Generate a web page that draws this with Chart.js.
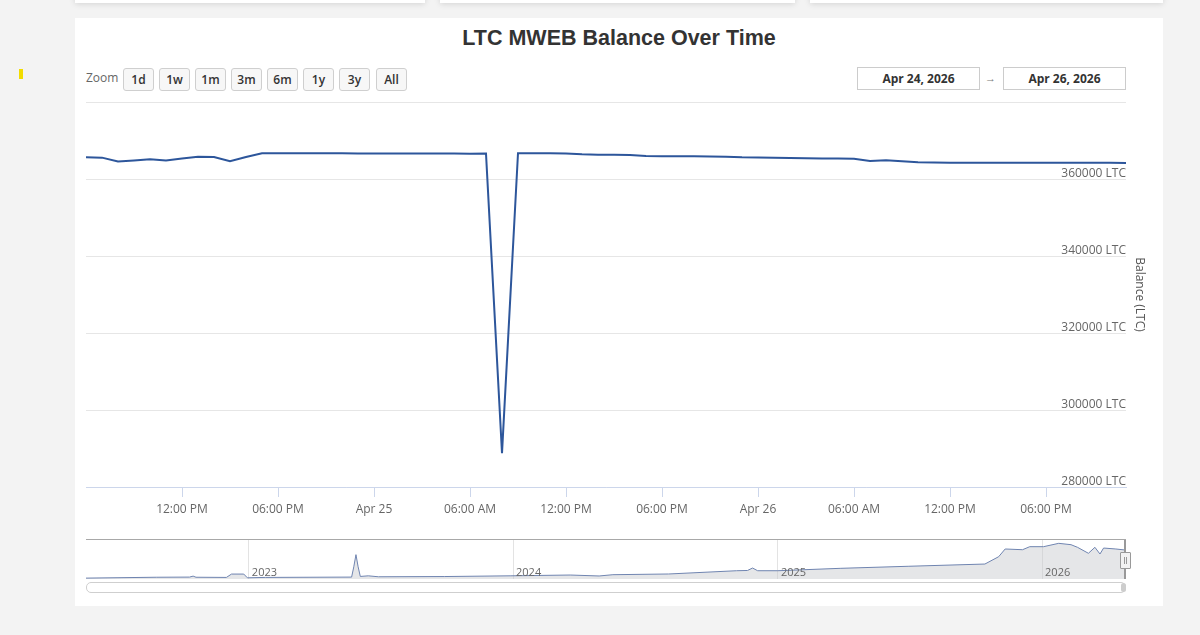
<!DOCTYPE html>
<html>
<head>
<meta charset="utf-8">
<script src="https://cdn.jsdelivr.net/npm/chart.js@4.4.1/dist/chart.umd.min.js"></script>
<style>
  html, body { margin: 0; padding: 0; background: #f3f3f3; }
  #page { position: relative; width: 1200px; height: 635px; overflow: hidden; background: #f3f3f3; font-family: "Open Sans", "Noto Sans", sans-serif; }
  .topcard { position: absolute; top: -30px; height: 33px; background: #fff; box-shadow: 0 1px 6px rgba(0,0,0,0.13); }
  #mark { position: absolute; left: 19px; top: 69px; width: 4px; height: 10px; background: #f2dc00; }
  #card { position: absolute; left: 75px; top: 18px; width: 1088px; height: 588px; background: #fff; }
  #title { position: absolute; left: 75px; width: 1088px; top: 25px; line-height: 26px; text-align: center; font-family: "Liberation Sans", Arial, sans-serif; font-weight: bold; font-size: 21.5px; color: #333; }
  #zoomlbl { position: absolute; left: 86px; top: 70px; font-size: 12px; line-height: 16px; color: #666; }
  .btn { position: absolute; top: 68px; height: 21px; width: 29px; border: 1px solid #cfcfcf; border-radius: 3px; background: #f7f7f7; box-sizing: content-box; font-weight: 600; font-size: 12px; line-height: 21px; text-align: center; color: #333; }
  .date { position: absolute; top: 67px; height: 21px; width: 121px; border: 1px solid #cccccc; background: #fff; font-weight: bold; font-size: 12px; line-height: 21px; text-align: center; color: #333; }
  #arrow { position: absolute; left: 985px; top: 70px; font-size: 11px; line-height: 16px; color: #777; }
  #main { position: absolute; left: 0; top: 0; }
  #nav { position: absolute; left: 0; top: 530px; }
  #handle { position: absolute; left: 1120px; top: 552px; width: 9px; height: 15px; border: 1px solid #999; background: #f2f2f2; border-radius: 1px; }
  #handle:before, #handle:after { content: ""; position: absolute; top: 4px; width: 1px; height: 7px; background: #999; }
  #handle:before { left: 3px; } #handle:after { left: 5px; }
  #scroll { position: absolute; left: 86px; top: 582px; width: 1038px; height: 9px; border: 1px solid #cfcfcf; border-radius: 5px; background: #fff; }
  #thumb { position: absolute; left: 1121px; top: 583px; width: 5px; height: 9px; background: #cdcdcd; border-radius: 3px; }
</style>
</head>
<body>
<div id="page">
  <div class="topcard" style="left:75px;width:350px"></div>
  <div class="topcard" style="left:440px;width:355px"></div>
  <div class="topcard" style="left:810px;width:353px"></div>
  <div id="mark"></div>
  <div id="card"></div>
  <div id="title">LTC MWEB Balance Over Time</div>
  <div id="zoomlbl">Zoom</div>
  <div id="buttons"></div>
  <div class="date" style="left:857px">Apr 24, 2026</div>
  <div id="arrow">→</div>
  <div class="date" style="left:1003px">Apr 26, 2026</div>
  <canvas id="main" width="1200" height="530"></canvas>
  <canvas id="nav" width="1200" height="70"></canvas>
  <div id="handle"></div>
  <div id="scroll"></div>
  <div id="thumb"></div>
</div>
<script>
// ---------- DATA ----------
const zoomButtons = ['1d', '1w', '1m', '3m', '6m', '1y', '3y', 'All'];

// Main chart: hourly balance, Apr 24 06:00 -> Apr 26 23:00 (UTC)
const times = [
  '2026-04-24T06:00Z','2026-04-24T07:00Z','2026-04-24T08:00Z','2026-04-24T09:00Z','2026-04-24T10:00Z','2026-04-24T11:00Z',
  '2026-04-24T12:00Z','2026-04-24T13:00Z','2026-04-24T14:00Z','2026-04-24T15:00Z','2026-04-24T16:00Z','2026-04-24T17:00Z',
  '2026-04-24T18:00Z','2026-04-24T19:00Z','2026-04-24T20:00Z','2026-04-24T21:00Z','2026-04-24T22:00Z','2026-04-24T23:00Z',
  '2026-04-25T00:00Z','2026-04-25T01:00Z','2026-04-25T02:00Z','2026-04-25T03:00Z','2026-04-25T04:00Z','2026-04-25T05:00Z',
  '2026-04-25T06:00Z','2026-04-25T07:00Z','2026-04-25T08:00Z','2026-04-25T09:00Z','2026-04-25T10:00Z','2026-04-25T11:00Z',
  '2026-04-25T12:00Z','2026-04-25T13:00Z','2026-04-25T14:00Z','2026-04-25T15:00Z','2026-04-25T16:00Z','2026-04-25T17:00Z',
  '2026-04-25T18:00Z','2026-04-25T19:00Z','2026-04-25T20:00Z','2026-04-25T21:00Z','2026-04-25T22:00Z','2026-04-25T23:00Z',
  '2026-04-26T00:00Z','2026-04-26T01:00Z','2026-04-26T02:00Z','2026-04-26T03:00Z','2026-04-26T04:00Z','2026-04-26T05:00Z',
  '2026-04-26T06:00Z','2026-04-26T07:00Z','2026-04-26T08:00Z','2026-04-26T09:00Z','2026-04-26T10:00Z','2026-04-26T11:00Z',
  '2026-04-26T12:00Z','2026-04-26T13:00Z','2026-04-26T14:00Z','2026-04-26T15:00Z','2026-04-26T16:00Z','2026-04-26T17:00Z',
  '2026-04-26T18:00Z','2026-04-26T19:00Z','2026-04-26T20:00Z','2026-04-26T21:00Z','2026-04-26T22:00Z','2026-04-26T23:00Z'
];
const balance = [
  365650, 365550, 364550, 364800, 365100, 364800,
  365300, 365800, 365700, 364600, 365700, 366700,
  366700, 366700, 366700, 366700, 366700, 366650,
  366650, 366650, 366600, 366600, 366600, 366600,
  366550, 366600, 288800, 366700, 366700, 366700,
  366650, 366400, 366300, 366300, 366250, 365950,
  365900, 365900, 365900, 365850, 365800, 365650,
  365600, 365500, 365450, 365400, 365350, 365300,
  365250, 364700, 364900, 364600, 364350, 364300,
  364250, 364250, 364250, 364200, 364200, 364200,
  364200, 364200, 364200, 364200, 364200, 364150
];
const xRange = ['2026-04-24T06:00Z', '2026-04-26T23:00Z'];
const xTickTimes = ['2026-04-24T12:00Z','2026-04-24T18:00Z','2026-04-25T00:00Z','2026-04-25T06:00Z','2026-04-25T12:00Z',
                    '2026-04-25T18:00Z','2026-04-26T00:00Z','2026-04-26T06:00Z','2026-04-26T12:00Z','2026-04-26T18:00Z'];
const xTickLabels = ['12:00 PM','06:00 PM','Apr 25','06:00 AM','12:00 PM','06:00 PM','Apr 26','06:00 AM','12:00 PM','06:00 PM'];
const yTickValues = [280000, 300000, 320000, 340000, 360000, 380000];
const yTickLabels = ['280000 LTC', '300000 LTC', '320000 LTC', '340000 LTC', '360000 LTC', ''];
const yTitle = 'Balance (LTC)';

// Navigator: full history
const navDates = [
  '2022-05-21','2022-08-26','2022-10-11','2022-10-16','2022-10-20','2022-12-01','2022-12-08','2022-12-25','2022-12-30',
  '2023-01-24','2023-05-23','2023-05-26','2023-05-29','2023-06-01','2023-06-04','2023-06-15','2023-06-29','2023-09-28','2023-12-28',
  '2024-03-20','2024-04-29','2024-05-18','2024-08-03','2024-11-05','2024-11-20','2024-11-27','2024-12-04',
  '2025-01-01','2025-03-28','2025-07-01','2025-10-14','2025-11-02','2025-11-11','2025-12-05','2025-12-15',
  '2026-01-03','2026-01-24','2026-02-10','2026-02-19','2026-03-06','2026-03-15','2026-03-22','2026-03-27','2026-04-13','2026-04-26'
];
const navValues = [
  11000, 22000, 24000, 36000, 22000, 20000, 62000, 62000, 15000,
  20000, 24000, 153000, 306000, 153000, 32000, 40000, 28000, 31000, 40000,
  50000, 38000, 54000, 63000, 104000, 107000, 138000, 104000,
  104000, 134000, 160000, 188000, 280000, 377000, 368000, 406000,
  406000, 448000, 431000, 398000, 323000, 398000, 314000, 389000, 377000, 364000
];
const navRange = ['2022-05-21T00:00Z', '2026-04-26T23:00Z'];
const navYearTicks = ['2023-01-01T00:00Z', '2024-01-01T00:00Z', '2025-01-01T00:00Z', '2026-01-01T00:00Z'];
const navYearLabels = ['2023', '2024', '2025', '2026'];

// ---------- UI ----------
const btnLefts = [123, 159, 195, 231, 267, 303, 339, 376];
const bc = document.getElementById('buttons');
zoomButtons.forEach((b, i) => {
  const d = document.createElement('div');
  d.className = 'btn';
  d.style.left = btnLefts[i] + 'px';
  d.textContent = b;
  bc.appendChild(d);
});

const FONT = '"Open Sans", "Noto Sans", sans-serif';
const T = s => Date.parse(s);

// ---------- MAIN CHART ----------
new Chart(document.getElementById('main'), {
  type: 'line',
  data: {
    datasets: [{
      data: times.map((t, i) => ({ x: T(t), y: balance[i] })),
      borderColor: '#2d569b',
      borderWidth: 2,
      pointRadius: 0,
      tension: 0,
      fill: false
    }]
  },
  options: {
    responsive: false,
    animation: false,
    events: [],
    layout: { padding: { left: 86, top: 102, right: 44, bottom: 13 } },
    plugins: { legend: { display: false }, tooltip: { enabled: false } },
    scales: {
      x: {
        type: 'linear',
        min: T(xRange[0]),
        max: T(xRange[1]),
        afterBuildTicks: s => { s.ticks = xTickTimes.map(t => ({ value: T(t) })); },
        ticks: {
          autoSkip: false, maxRotation: 0, padding: 5,
          color: '#666', font: { family: FONT, size: 12 },
          callback: (v, i) => xTickLabels[i]
        },
        grid: { drawOnChartArea: false, drawTicks: true, tickLength: 10, color: '#ccd6eb' },
        border: { color: '#ccd6eb' },
        afterFit: s => { s.height = 30; }
      },
      y: {
        position: 'right',
        min: 280000,
        max: 380000,
        afterBuildTicks: s => { s.ticks = yTickValues.map(v => ({ value: v })); },
        ticks: {
          mirror: true, padding: 0, labelOffset: -5,
          color: '#666', font: { family: FONT, size: 12 },
          callback: (v, i) => yTickLabels[i]
        },
        grid: { color: '#e6e6e6', drawTicks: false },
        border: { display: false },
        title: { display: true, text: yTitle, color: '#555', font: { family: FONT, size: 12 }, padding: { top: 9, bottom: 0 } },
        afterFit: s => { s.width = 30; }
      }
    }
  }
});

// ---------- NAVIGATOR ----------
const navDeco = {
  id: 'navDeco',
  afterDatasetsDraw(chart) {
    const { ctx, chartArea: a, scales: { x } } = chart;
    ctx.save();
    ctx.font = '11px ' + FONT;
    ctx.fillStyle = '#666';
    ctx.textAlign = 'left';
    ctx.textBaseline = 'alphabetic';
    navYearTicks.forEach((t, i) => {
      ctx.fillText(navYearLabels[i], x.getPixelForValue(T(t)) + 3, a.bottom - 3.5);
    });
    ctx.strokeStyle = '#a8a8a8';
    ctx.lineWidth = 1;
    ctx.beginPath();
    ctx.moveTo(a.left, a.top - 0.5);
    ctx.lineTo(a.right, a.top - 0.5);
    ctx.stroke();
    ctx.strokeStyle = '#999';
    ctx.lineWidth = 2;
    ctx.beginPath();
    ctx.moveTo(a.right - 1, a.top);
    ctx.lineTo(a.right - 1, a.bottom);
    ctx.stroke();
    ctx.restore();
  }
};

new Chart(document.getElementById('nav'), {
  type: 'line',
  data: {
    datasets: [{
      data: navDates.map((d, i) => ({ x: T(d + 'T00:00Z'), y: navValues[i] })),
      borderColor: '#6f84b0',
      borderWidth: 1,
      pointRadius: 0,
      tension: 0,
      fill: 'start',
      backgroundColor: 'rgba(200,202,206,0.48)'
    }]
  },
  options: {
    responsive: false,
    animation: false,
    events: [],
    layout: { padding: { left: 86, right: 74, top: 10, bottom: 21 } },
    plugins: { legend: { display: false }, tooltip: { enabled: false } },
    scales: {
      x: {
        type: 'linear',
        min: T(navRange[0]),
        max: T(navRange[1]),
        afterBuildTicks: s => { s.ticks = navYearTicks.map(t => ({ value: T(t) })); },
        ticks: { display: false },
        grid: { color: '#e3e3e3', drawTicks: false },
        border: { display: false },
        afterFit: s => { s.height = 0; }
      },
      y: { display: false, min: 0, max: 490000 }
    }
  },
  plugins: [navDeco]
});
</script>
</body>
</html>
